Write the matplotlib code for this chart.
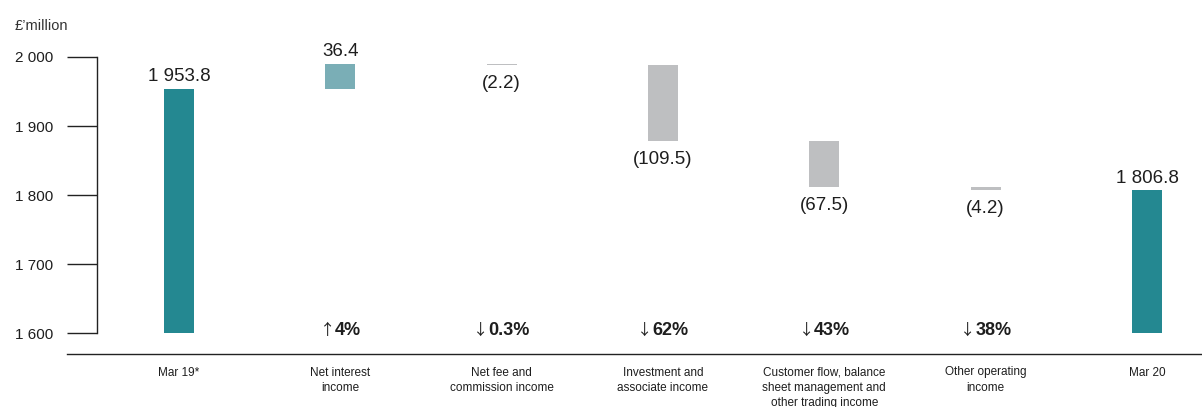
import matplotlib
matplotlib.use("Agg")
import numpy as np
import matplotlib.pyplot as plt

# Income bridge, £'million
categories = [
    "Mar 19*",
    "Net interest\nincome",
    "Net fee and\ncommission income",
    "Investment and\nassociate income",
    "Customer flow, balance\nsheet management and\nother trading income",
    "Other operating\nincome",
    "Mar 20",
]
start_total = 1953.8
changes = [36.4, -2.2, -109.5, -67.5, -4.2]
end_total = 1806.8
pct_arrows = ["\u2191", "\u2193", "\u2193", "\u2193", "\u2193"]
pct_labels = ["4%", "0.3%", "62%", "43%", "38%"]
y_ticks = [1600, 1700, 1800, 1900, 2000]

TOTAL_COLOR = "#248891"
UP_COLOR = "#7aaeb6"
DOWN_COLOR = "#bebfc1"
TEXT_COLOR = "#1e1e1e"
AXIS_COLOR = "#222222"
BASE = 1600
DPI = 100

plt.rcParams["font.family"] = ["Liberation Sans", "DejaVu Sans"]


def fmt_value(v):
    s = f"{abs(v):,.1f}".replace(",", " ")
    return f"({s})" if v < 0 else s


fig = plt.figure(figsize=(12.02, 4.07), dpi=DPI)
# axes spans from the tick ends to the right edge
ax = fig.add_axes([67 / 1202, 53 / 407, 1135 / 1202, 297 / 407])

x = np.arange(len(categories))
bar_w = 0.186

# totals at both ends
for xi, total in [(x[0], start_total), (x[-1], end_total)]:
    ax.bar(xi, total - BASE, bottom=BASE, width=bar_w, color=TOTAL_COLOR)
    ax.annotate(fmt_value(total), (xi, total), xytext=(0, 5.5), textcoords="offset points",
                ha="center", va="baseline", fontsize=13.5, color=TEXT_COLOR)

# floating bars for each movement, with a thin arrow + bold percentage underneath
pct_pairs = []
level = start_total
for i, delta in enumerate(changes):
    xi = x[i + 1]
    lo = min(level, level + delta)
    color = UP_COLOR if delta > 0 else DOWN_COLOR
    ax.bar(xi, abs(delta), bottom=lo, width=bar_w, color=color)
    if delta > 0:
        ax.annotate(fmt_value(delta), (xi, level + delta), xytext=(0, 5.5),
                    textcoords="offset points", ha="center", va="baseline",
                    fontsize=13.5, color=TEXT_COLOR)
    else:
        ax.annotate(fmt_value(delta), (xi, lo), xytext=(0, -7),
                    textcoords="offset points", ha="center", va="top",
                    fontsize=13.5, color=TEXT_COLOR)
    arrow = ax.annotate(pct_arrows[i], (xi, BASE - 3), xytext=(0, 0),
                        textcoords="offset points", ha="left", va="baseline",
                        fontsize=11, family=["Noto Sans CJK JP", "DejaVu Sans"],
                        color=TEXT_COLOR)
    pct = ax.annotate(pct_labels[i], (xi, BASE - 3), xytext=(0, 0),
                      textcoords="offset points", ha="left", va="baseline",
                      fontsize=13, fontweight="bold", color=TEXT_COLOR)
    pct_pairs.append((arrow, pct))
    level += delta

ax.set_xlim(-0.694, 6.341)
ax.set_ylim(1569.6, 2000)

ax.spines["top"].set_visible(False)
ax.spines["right"].set_visible(False)
ax.spines["left"].set_position(("data", -0.508))
ax.spines["left"].set_bounds(BASE, 2000)
ax.spines["left"].set_color(AXIS_COLOR)
ax.spines["bottom"].set_color(AXIS_COLOR)
ax.spines["left"].set_linewidth(1.0)
ax.spines["bottom"].set_linewidth(1.0)

ax.set_yticks(y_ticks)
ax.set_yticklabels([f"{t:,}".replace(",", " ") for t in y_ticks])
ax.tick_params(axis="y", length=21.6, width=1.0, color=AXIS_COLOR, pad=10,
               labelsize=11, labelcolor=TEXT_COLOR)

ax.set_xticks(x)
ax.set_xticklabels(categories, fontsize=8.5, color=TEXT_COLOR, linespacing=1.35)
ax.tick_params(axis="x", length=0, pad=9)

fig.text(15 / 1202, 1 - 30 / 407, "\u00a3\u2019million", fontsize=10.5, color="#333333",
         va="baseline", ha="left")

# centre each arrow + percentage pair on its bar
renderer = fig.canvas.get_renderer()
for arrow, pct in pct_pairs:
    wa = arrow.get_window_extent(renderer).width * 72 / DPI
    wp = pct.get_window_extent(renderer).width * 72 / DPI
    total = wa + wp
    arrow.set_position((-total / 2, 0))
    pct.set_position((-total / 2 + wa, 0))

fig.savefig("out.png", dpi=DPI)
